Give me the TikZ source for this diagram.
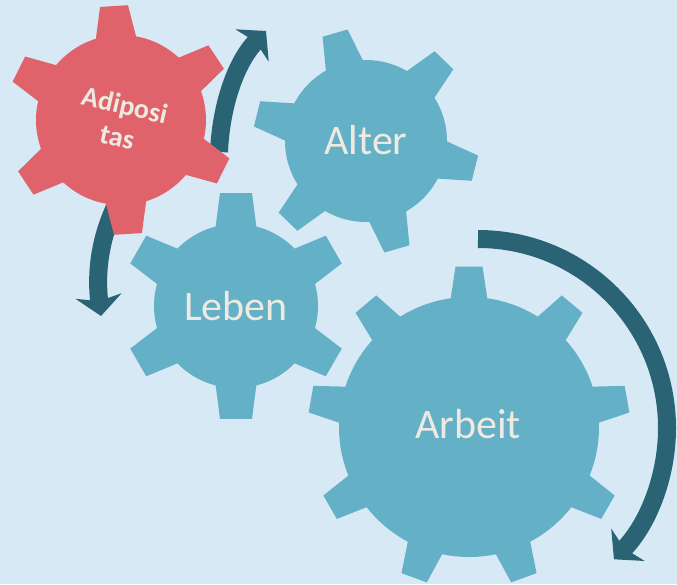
\documentclass[tikz,border=0pt]{standalone}
\usepackage{fontspec}
\setmainfont{Carlito}
\usetikzlibrary{arrows.meta}
\definecolor{bgc}{HTML}{D8E9F6}
\definecolor{gearblue}{HTML}{64B0C6}
\definecolor{gearred}{HTML}{E0626A}
\definecolor{arrowc}{HTML}{2A6474}
\definecolor{txtc}{HTML}{EEEAE2}
\newcommand{\drawgear}[9]{%
  \begin{scope}[shift={(#1,#2)}]
    \fill[#9] (0,0) circle[radius=#3];
    \foreach \k in {1,...,#5}{%
      \pgfmathsetmacro\ga{#6+360/#5*\k}%
      \pgfmathsetmacro\gb{asin(#8/#3)}%
      \pgfmathsetmacro\gt{asin(#7/#4)}%
      \fill[#9] ({\ga-\gb}:{#3-4}) -- ({\ga-\gt}:#4) -- ({\ga+\gt}:#4) -- ({\ga+\gb}:{#3-4}) -- cycle;
    }
  \end{scope}}
\tikzset{
  flow/.style={draw=arrowc, line width=18pt, -{Stealth[width=46pt,length=20pt,inset=5pt]}},
  geartext/.style={text=txtc, font=\fontsize{42}{48}\selectfont, inner sep=0pt},
}
\begin{document}
\begin{tikzpicture}[x=1pt,y=-1pt]
\fill[bgc] (0,0) rectangle (677,584);
\useasboundingbox (0,0) rectangle (677,584);
% arrows
\coordinate (u0) at (219,152);
\coordinate (u1) at (266,31);
\draw[flow] (u0) .. controls (221,105) and (236,62) .. (u1);
\coordinate (l0) at (116,205);
\coordinate (l1) at (101,316);
\draw[flow] (l0) .. controls (99,240) and (96,275) .. (l1);
\coordinate (b0) at (478,239);
\draw[flow] (b0) arc[start angle=-90, end angle=44, radius=189];
% gears
\drawgear{121}{120}{85}{115}{6}{-33.5}{14}{22}{gearred}
\drawgear{366}{141}{81}{113}{6}{14}{13}{21}{gearblue}
\drawgear{236}{306}{82}{114}{6}{-90}{16}{22}{gearblue}
\drawgear{469}{427}{130}{161}{9}{-90}{13.5}{19.5}{gearblue}
% labels
\node[text=txtc, font=\bfseries\fontsize{28}{33}\selectfont, align=center, rotate=-13, inner sep=0pt] (adi) at (121,121) {Adiposi\\tas};
\node[geartext] (alter) at (366,140) {Alter};
\node[geartext] (leben) at (236,306) {Leben};
\node[geartext] (arbeit) at (468,424) {Arbeit};
\end{tikzpicture}
\end{document}
